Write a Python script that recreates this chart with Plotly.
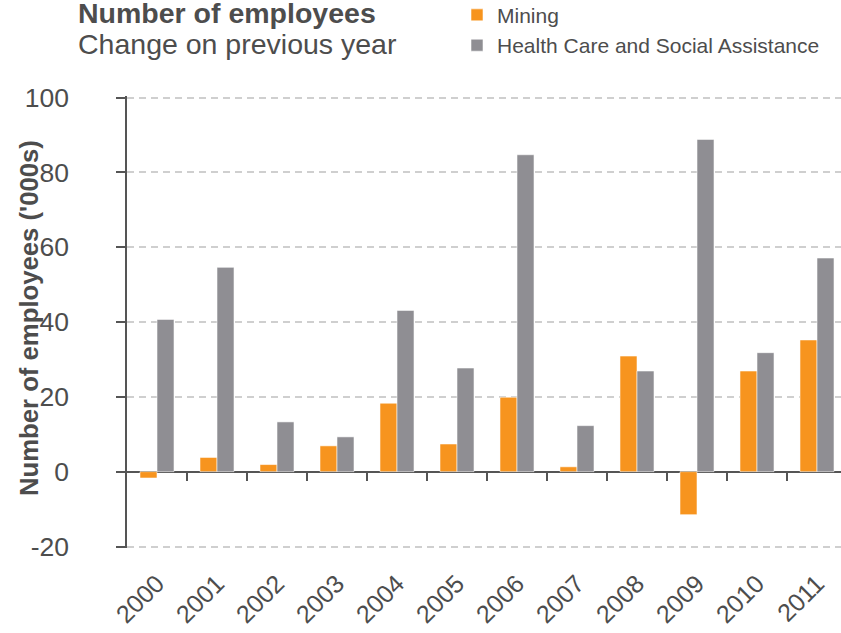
import plotly.graph_objects as go

years = ["2000", "2001", "2002", "2003", "2004", "2005",
         "2006", "2007", "2008", "2009", "2010", "2011"]
mining = [-1.7, 3.8, 1.9, 6.9, 18.3, 7.4, 19.9, 1.3, 30.9, -11.5, 26.9, 35.2]
health = [40.7, 54.6, 13.3, 9.3, 43.1, 27.7, 84.7, 12.3, 26.9, 88.8, 31.8, 57.1]

series_names = ["Mining", "Health Care and Social Assistance"]
colors = ["#F7941E", "#8F8E93"]
yticks = [-20, 0, 20, 40, 60, 80, 100]

W, H = 841, 633
PXU = 3.75            # pixels per data unit on the value axis
PADU = 0.4            # small range padding so edge gridlines are drawn
yr = [yticks[0] - PADU, yticks[-1] + PADU]
L, R = 127, 0
T = 97 - PADU * PXU
B = H - (547 + PADU * PXU)
PW, PH = W - L - R, H - T - B

def px_x(p):
    return (p - L) / PW

def px_y(p):
    return (H - B - p) / PH

FONT = "Liberation Sans, Arial, sans-serif"
TXT = "#4d4d4d"
AX = "#555555"

fig = go.Figure()
for name, vals, col in zip(series_names, [mining, health], colors):
    fig.add_trace(go.Bar(
        x=list(range(len(years))), y=vals, name=name,
        marker=dict(color=col, line=dict(color="rgba(255,255,255,0.55)", width=1)),
    ))

# helper (empty) trace so the boundary-tick axis at y=0 is drawn
fig.add_trace(go.Scatter(x=[], y=[], xaxis="x2", showlegend=False, hoverinfo="skip"))

xr = [-0.5, -0.5 + PW / 60.0]

fig.update_layout(
    width=W, height=H,
    margin=dict(l=L, r=R, t=T, b=B, pad=0, autoexpand=False),
    paper_bgcolor="white", plot_bgcolor="white",
    font=dict(family=FONT, color=TXT),
    barmode="group", bargap=0.433, bargroupgap=0,
    showlegend=True,
    legend=dict(
        x=px_x(457), y=px_y(-6), xanchor="left", yanchor="top",
        font=dict(size=21, color=TXT, family=FONT),
        bgcolor="rgba(0,0,0,0)", tracegroupgap=0,
    ),
    xaxis=dict(
        range=xr, tickmode="array",
        tickvals=list(range(len(years))), ticktext=years,
        tickangle=-45, tickfont=dict(size=25, color=TXT, family=FONT),
        showline=False, showgrid=False, zeroline=False, ticks="",
        ticklabelstandoff=15,
    ),
    xaxis2=dict(
        overlaying="x", anchor="free",
        position=(0 - yr[0]) / (yr[1] - yr[0]),
        range=xr, tickmode="array",
        tickvals=[i + 0.5 for i in range(len(years) - 1)],
        ticks="outside", ticklen=8, tickwidth=1.5, tickcolor=AX,
        showticklabels=False, showline=False, showgrid=False, zeroline=False,
    ),
    yaxis=dict(
        range=yr, tickmode="array", tickvals=yticks,
        ticktext=[str(v) for v in yticks],
        tickfont=dict(size=26.5, color=TXT, family=FONT),
        ticks="outside", ticklen=9, tickwidth=1.5, tickcolor=AX,
        showline=True, linecolor=AX, linewidth=1.5,
        showgrid=True, gridcolor="#cfcfcf", gridwidth=1.5, griddash="7px,5px",
        zeroline=True, zerolinecolor=AX, zerolinewidth=2,
        ticklabelstandoff=42,
    ),
    annotations=[
        dict(text="<b>Number of employees</b>",
             xref="paper", yref="paper", x=px_x(76), y=px_y(-6),
             xanchor="left", yanchor="top", align="left", showarrow=False,
             font=dict(size=28.5, color=TXT, family=FONT)),
        dict(text="Change on previous year",
             xref="paper", yref="paper", x=px_x(76), y=px_y(25),
             xanchor="left", yanchor="top", align="left", showarrow=False,
             font=dict(size=28.5, color=TXT, family=FONT)),
        dict(text="<b>Number of employees ('000s)</b>",
             xref="paper", yref="paper", x=px_x(29), y=px_y(318),
             xanchor="center", yanchor="middle", textangle=-90, showarrow=False,
             font=dict(size=25.7, color=TXT, family=FONT)),
    ],
)

fig.write_html("out.html", config={"displayModeBar": False},
               post_script="document.body.style.margin='0';")
